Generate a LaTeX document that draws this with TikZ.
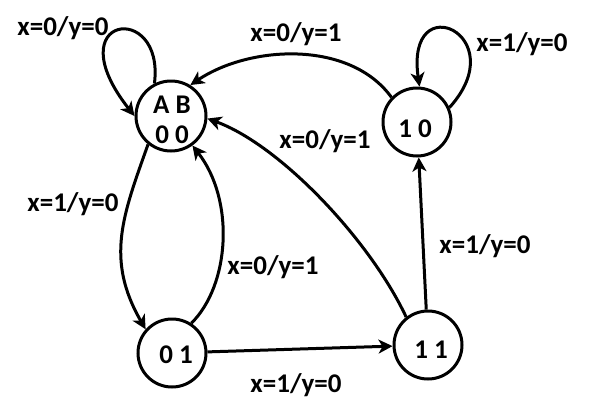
\documentclass[tikz,border=0pt]{standalone}
\usepackage{fontspec}
\setmainfont{Carlito}
\usetikzlibrary{arrows.meta}
\begin{document}
\begin{tikzpicture}[x=1pt,y=-1pt,
  state/.style={draw, circle, line width=3pt, minimum size=68pt, inner sep=0pt},
  txt/.style={font=\fontsize{27}{30}\selectfont\bfseries, inner sep=0pt, align=center},
  arr/.style={line width=3pt, -{Stealth[length=14pt,width=14pt,inset=4pt]}}]
\useasboundingbox (0,0) rectangle (589,418);
\node[state, minimum size=70pt] (A) at (171,116) {};
\node[state] (S10) at (417,122) {};
\node[state] (S01) at (172,353) {};
\node[state] (S11) at (428,345) {};
\node[txt] (tA) at (172,120) {A B\\0 0};
\node[txt] (t10) at (415,129) {1 0};
\node[txt] (t01) at (176,355) {0 1};
\node[txt] (t11) at (431,350) {1 1};
% self loop A
\draw[arr] (A.117) .. controls (165,0) and (55,15) .. (A.180);
% self loop 10
\draw[arr] (S10.24) .. controls (515,35) and (405,-15) .. (S10.86);
% 10 -> A
\draw[arr] (S10.136) .. controls (350,40) and (250,45) .. (A.58);
% 11 -> A
\draw[arr] (S11.128) .. controls (370,240) and (280,145) .. (A.-4);
% A -> 01
\draw[arr] (A.231) .. controls (123,215) and (105,259) .. (S01.138);
% 01 -> A
\draw[arr] (S01.57) .. controls (230,285) and (235,200) .. (A.-54);
% 01 -> 11
\draw[arr] (S01) -- (S11);
% 11 -> 10
\draw[arr] (S11) -- (S10);
% labels
\node[txt] (l1) at (63,28) {x=0/y=0};
\node[txt] (l2) at (296,34) {x=0/y=1};
\node[txt] (l3) at (522,44) {x=1/y=0};
\node[txt] (l4) at (325,141) {x=0/y=1};
\node[txt] (l5) at (73,204) {x=1/y=0};
\node[txt] (l6) at (485,246) {x=1/y=0};
\node[txt] (l7) at (273,267) {x=0/y=1};
\node[txt] (l8) at (296,385) {x=1/y=0};
\end{tikzpicture}
\end{document}
